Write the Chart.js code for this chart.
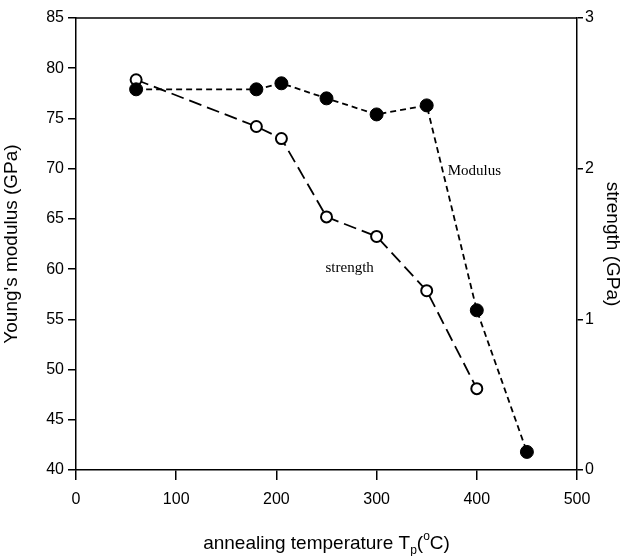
<!DOCTYPE html>
<html>
<head>
<meta charset="utf-8">
<script src="https://cdn.jsdelivr.net/npm/chart.js@4.4.1/dist/chart.umd.min.js"></script>
<style>
  html, body { margin: 0; padding: 0; background: #fff; }
  #wrap { width: 624px; height: 556px; }
</style>
</head>
<body>
<div id="wrap"><canvas id="chart"></canvas></div>
<script>
// annealing temperature (deg C)
var modulusTemps = [60, 180, 205, 250, 300, 350, 400, 450];
var modulusValues = [77.9, 77.9, 78.5, 77.0, 75.4, 76.3, 55.9, 41.8];
var strengthTemps = [60, 180, 205, 250, 300, 350, 400];
var strengthValues = [2.59, 2.28, 2.20, 1.68, 1.55, 1.19, 0.54];

var xTicks = [0, 100, 200, 300, 400, 500];
var leftTicks = [40, 45, 50, 55, 60, 65, 70, 75, 80, 85];
var rightTicks = [0, 1, 2, 3];

function pairs(xs, ys) {
  return xs.map(function(x, i) { return { x: x, y: ys[i] }; });
}

var sans = '"Liberation Sans", Arial, sans-serif';

// inline labels + x title with sub/superscript
var notes = {
  id: 'notes',
  afterDraw: function(chart) {
    var ctx = chart.ctx;
    var x = chart.scales.x, yl = chart.scales.y, yr = chart.scales.y1;
    ctx.save();
    ctx.fillStyle = '#000';
    ctx.font = '15px "Liberation Serif", "Times New Roman", serif';
    ctx.textBaseline = 'middle';
    ctx.textAlign = 'left';
    ctx.fillText('Modulus', x.getPixelForValue(371), yl.getPixelForValue(69.8));
    ctx.fillText('strength', x.getPixelForValue(249), yr.getPixelForValue(1.34));

    // x axis title
    var big = '19px ' + sans, small = '12px ' + sans;
    var parts = [
      { t: 'annealing temperature T', f: big, dy: 0 },
      { t: 'p', f: small, dy: 5 },
      { t: '(', f: big, dy: 0 },
      { t: 'o', f: small, dy: -9 },
      { t: 'C)', f: big, dy: 0 }
    ];
    var total = 0;
    parts.forEach(function(p) { ctx.font = p.f; p.w = ctx.measureText(p.t).width; total += p.w; });
    var px = (chart.chartArea.left + chart.chartArea.right) / 2 - total / 2;
    var base = 549;
    ctx.textBaseline = 'alphabetic';
    parts.forEach(function(p) {
      ctx.font = p.f;
      ctx.fillText(p.t, px, base + p.dy);
      px += p.w;
    });

    // top frame line
    ctx.strokeStyle = '#000';
    ctx.lineWidth = 1.5;
    ctx.beginPath();
    ctx.moveTo(chart.chartArea.left, chart.chartArea.top);
    ctx.lineTo(chart.chartArea.right, chart.chartArea.top);
    ctx.stroke();
    ctx.restore();
  }
};

var tickFont = { family: sans, size: 16 };

var chart = new Chart(document.getElementById('chart'), {
  type: 'scatter',
  data: {
    datasets: [{
      label: 'Modulus',
      data: pairs(modulusTemps, modulusValues),
      yAxisID: 'y',
      showLine: true,
      borderColor: '#000',
      borderWidth: 1.8,
      borderDash: [6, 4],
      pointRadius: 6.5,
      pointBackgroundColor: '#000',
      pointBorderColor: '#000',
      pointBorderWidth: 1
    }, {
      label: 'strength',
      data: pairs(strengthTemps, strengthValues),
      yAxisID: 'y1',
      showLine: true,
      borderColor: '#000',
      borderWidth: 1.8,
      borderDash: [13, 6],
      pointRadius: 5.5,
      pointBackgroundColor: '#fff',
      pointBorderColor: '#000',
      pointBorderWidth: 2
    }]
  },
  options: {
    responsive: true,
    maintainAspectRatio: false,
    animation: false,
    layout: { padding: { top: 18, left: 0, right: 0, bottom: 0 } },
    plugins: {
      legend: { display: false },
      tooltip: { enabled: false }
    },
    scales: {
      x: {
        type: 'linear',
        min: 0,
        max: 500,
        afterBuildTicks: function(scale) {
          scale.ticks = xTicks.map(function(v) { return { value: v }; });
        },
        afterFit: function(scale) { scale.height = 86; },
        grid: { drawOnChartArea: false, tickLength: 10, color: '#000', lineWidth: 1.5 },
        border: { color: '#000', width: 1.5 },
        ticks: { color: '#000', font: tickFont, padding: 10, maxRotation: 0 }
      },
      y: {
        type: 'linear',
        position: 'left',
        min: 40,
        max: 85,
        afterBuildTicks: function(scale) {
          scale.ticks = leftTicks.map(function(v) { return { value: v }; });
        },
        afterFit: function(scale) { scale.width = 76; },
        grid: { drawOnChartArea: false, tickLength: 8, color: '#000', lineWidth: 1.5 },
        border: { color: '#000', width: 1.5 },
        ticks: { color: '#000', font: tickFont, padding: 4 },
        title: {
          display: true,
          text: "Young's modulus (GPa)",
          color: '#000',
          font: { family: sans, size: 19 },
          padding: 0
        }
      },
      y1: {
        type: 'linear',
        position: 'right',
        min: 0,
        max: 3,
        afterBuildTicks: function(scale) {
          scale.ticks = rightTicks.map(function(v) { return { value: v }; });
        },
        afterFit: function(scale) { scale.width = 47; },
        grid: { drawOnChartArea: false, tickLength: 6, color: '#000', lineWidth: 1.5 },
        border: { color: '#000', width: 1.5 },
        ticks: { color: '#000', font: tickFont, padding: 2 },
        title: {
          display: true,
          text: 'strength (GPa)',
          color: '#000',
          font: { family: sans, size: 19 },
          padding: 0
        }
      }
    }
  },
  plugins: [notes]
});
</script>
</body>
</html>
